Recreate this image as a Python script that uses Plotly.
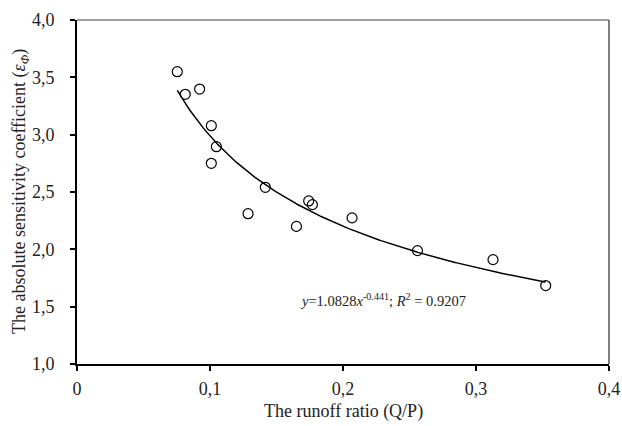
import numpy as np
import plotly.graph_objects as go

# Data
runoff_ratio = [0.0754, 0.0814, 0.0922, 0.1010, 0.1048, 0.1010, 0.1416, 0.1286,
                0.1742, 0.1770, 0.1650, 0.2068, 0.2560, 0.3128, 0.3524]
sensitivity = [3.549, 3.352, 3.398, 3.078, 2.895, 2.750, 2.541, 2.311,
               2.422, 2.390, 2.200, 2.274, 1.989, 1.910, 1.684]

# Power trendline y = a * x^b (from the reference's equation)
fit_a = 1.0828
fit_b = -0.441

x_tickvals = [0, 0.1, 0.2, 0.3, 0.4]
x_ticktext = ["0", "0,1", "0,2", "0,3", "0,4"]
y_tickvals = [1.0, 1.5, 2.0, 2.5, 3.0, 3.5, 4.0]
y_ticktext = ["1,0", "1,5", "2,0", "2,5", "3,0", "3,5", "4,0"]

FONT = "Liberation Serif, Times New Roman, serif"
TXT = "#222222"

xs = np.linspace(min(runoff_ratio), max(runoff_ratio), 200)
ys = fit_a * xs ** fit_b

fig = go.Figure()
fig.add_trace(go.Scatter(x=xs, y=ys, mode="lines",
                         line=dict(color="black", width=1.5),
                         hoverinfo="skip", showlegend=False))
fig.add_trace(go.Scatter(x=runoff_ratio, y=sensitivity, mode="markers",
                         marker=dict(symbol="circle-open", size=10,
                                     color="black", line=dict(width=1.2)),
                         showlegend=False))

fig.add_annotation(
    x=0.166, y=1.56, xref="x", yref="y", xanchor="left", yanchor="middle",
    showarrow=False,
    text="<i>y</i>=1.0828<i>x</i><sup>-0.441</sup>; <i>R</i><sup>2</sup> = 0.9207",
    font=dict(family=FONT, size=14.5, color=TXT),
)

# Axis titles as annotations for exact placement
fig.add_annotation(
    x=0.5, y=0, xref="paper", yref="paper", xanchor="center", yanchor="middle",
    yshift=-47, showarrow=False, text="The runoff ratio (Q/P)",
    font=dict(family=FONT, size=18, color=TXT),
)
fig.add_annotation(
    x=0, y=0.5, xref="paper", yref="paper", xanchor="center", yanchor="middle",
    xshift=-57, textangle=-90, showarrow=False,
    text="The absolute sensitivity coefficient (<i>ε<sub>Φ</sub></i>)",
    font=dict(family=FONT, size=18, color=TXT),
)

# Gray top and right frame lines
fig.add_shape(type="line", xref="paper", yref="paper", x0=0, x1=1, y0=1, y1=1,
              line=dict(color="#808080", width=1.5))
fig.add_shape(type="line", xref="paper", yref="paper", x0=1, x1=1, y0=0, y1=1,
              line=dict(color="#555555", width=1.5))

fig.update_layout(
    width=622, height=426,
    margin=dict(l=77, r=13, t=20, b=62),
    paper_bgcolor="white", plot_bgcolor="white",
    font=dict(family=FONT, size=18, color=TXT),
    xaxis=dict(range=[0, 0.4], tickvals=x_tickvals, ticktext=x_ticktext,
               showgrid=False, zeroline=False, showline=True,
               linecolor="black", linewidth=2, ticks="outside",
               ticklen=5, tickcolor="black", tickwidth=1.5,
               ticklabelstandoff=2, automargin=False,
               tickfont=dict(family=FONT, size=18, color=TXT)),
    yaxis=dict(range=[1.0, 4.0], tickvals=y_tickvals, ticktext=y_ticktext,
               showgrid=False, zeroline=False, showline=True,
               linecolor="black", linewidth=2, ticks="outside",
               ticklen=5, tickcolor="black", tickwidth=1.5,
               ticklabelstandoff=12, automargin=False,
               tickfont=dict(family=FONT, size=18, color=TXT)),
)

# Remove the default page margin so the figure fills the window exactly
fig.write_html(
    "out.html",
    config={"displayModeBar": False},
    post_script="document.body.style.margin='0';document.body.style.overflow='hidden';",
)
